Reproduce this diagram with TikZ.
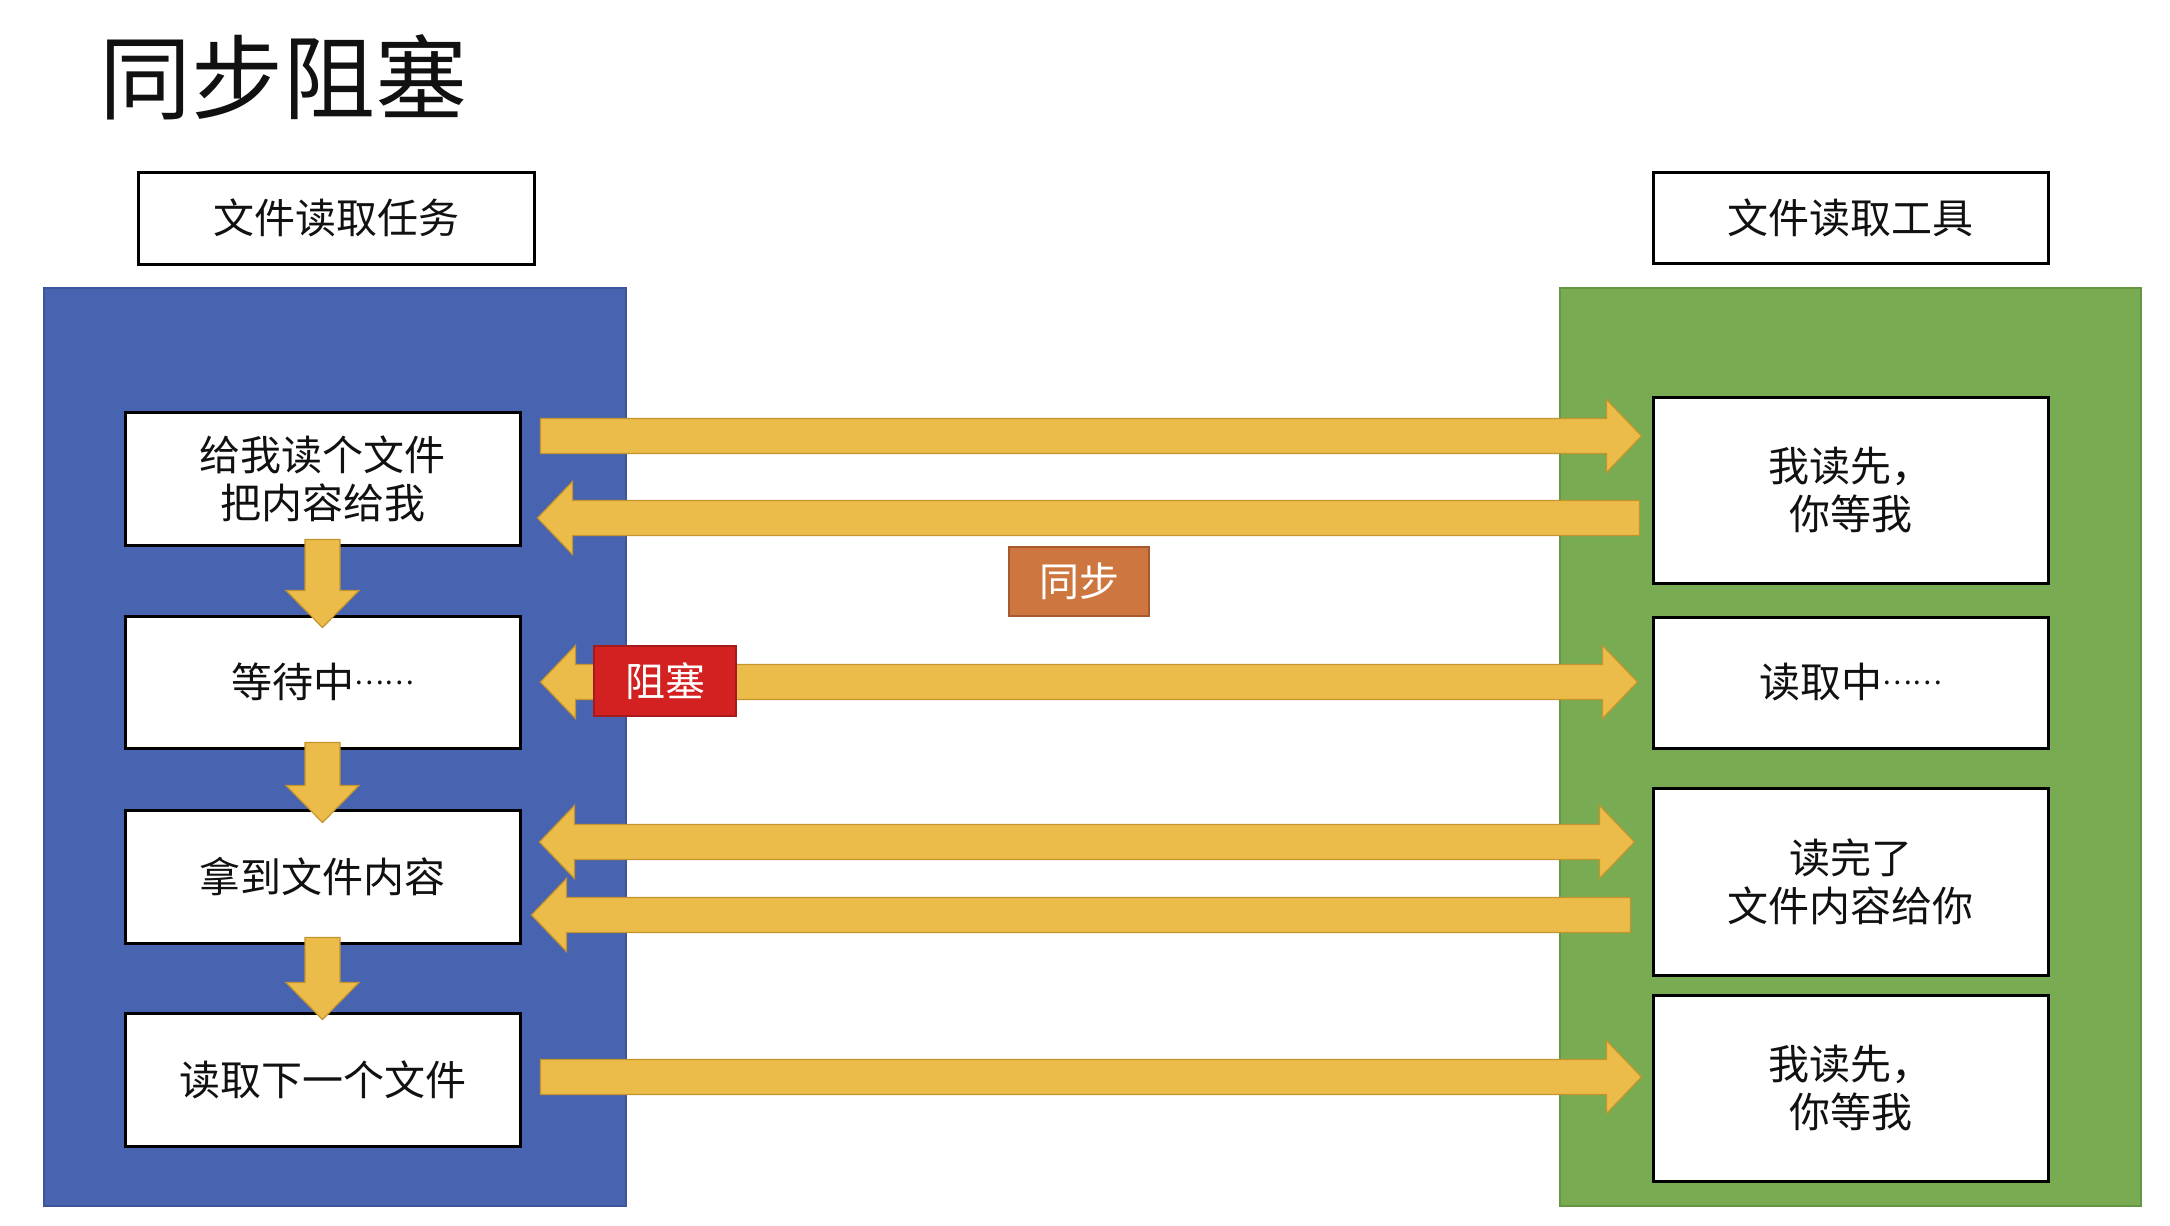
\documentclass[tikz,border=0pt]{standalone}
\usepackage{fontspec}
\setmainfont{Noto Sans CJK SC}
\usetikzlibrary{calc}
\definecolor{panelblue}{HTML}{4863AF}
\definecolor{panelblueline}{HTML}{3E559A}
\definecolor{panelgreen}{HTML}{78AB52}
\definecolor{panelgreenline}{HTML}{669543}
\definecolor{gold}{HTML}{ECBC4A}
\definecolor{golddark}{HTML}{C4952C}
\definecolor{syncorange}{HTML}{CD7640}
\definecolor{syncorangeline}{HTML}{A65A2D}
\definecolor{blockred}{HTML}{D32121}
\definecolor{blockredline}{HTML}{A51A1A}
\definecolor{inktext}{HTML}{111111}
\newcommand\midell{\raisebox{6.5pt}{\fontsize{14}{14}\selectfont ……}}
\begin{document}
\begin{tikzpicture}[x=0.5pt,y=-0.5pt,
  panel/.style={inner sep=0pt, line width=0.8pt},
  boxfont/.style={font=\fontsize{20.5}{24}\selectfont, text=inktext},
  header/.style={boxfont, draw=black, fill=white, line width=1.5pt, inner sep=0pt,
    minimum width=198pt, minimum height=46pt},
  stepbox/.style={boxfont, draw=black, fill=white, line width=1.5pt, inner sep=0pt,
    align=center, minimum width=197.5pt},
  tagbox/.style={font=\fontsize{20}{24}\selectfont, text=white, line width=1pt, inner sep=0pt},
  fatbase/.style={fill=gold, draw=golddark, line width=0.6pt, line join=miter},
  fat right/.style={fatbase, to path={
    ($(\tikztostart)+(0,-17.5)$) -- ($(\tikztotarget)+(-35,-17.5)$) -- ($(\tikztotarget)+(-35,-36.5)$)
    -- (\tikztotarget) -- ($(\tikztotarget)+(-35,36.5)$) -- ($(\tikztotarget)+(-35,17.5)$)
    -- ($(\tikztostart)+(0,17.5)$) -- cycle}},
  fat left/.style={fatbase, to path={
    ($(\tikztostart)+(0,-17.5)$) -- ($(\tikztotarget)+(35,-17.5)$) -- ($(\tikztotarget)+(35,-36.5)$)
    -- (\tikztotarget) -- ($(\tikztotarget)+(35,36.5)$) -- ($(\tikztotarget)+(35,17.5)$)
    -- ($(\tikztostart)+(0,17.5)$) -- cycle}},
  fat both/.style={fatbase, to path={
    (\tikztostart) -- ($(\tikztostart)+(35,-36.5)$) -- ($(\tikztostart)+(35,-17.5)$)
    -- ($(\tikztotarget)+(-35,-17.5)$) -- ($(\tikztotarget)+(-35,-36.5)$)
    -- (\tikztotarget) -- ($(\tikztotarget)+(-35,36.5)$) -- ($(\tikztotarget)+(-35,17.5)$)
    -- ($(\tikztostart)+(35,17.5)$) -- ($(\tikztostart)+(35,36.5)$) -- cycle}},
  fat down/.style={fatbase, to path={
    ($(\tikztostart)+(-17.5,0)$) -- ($(\tikztotarget)+(-17.5,-37)$) -- ($(\tikztotarget)+(-36.5,-37)$)
    -- (\tikztotarget) -- ($(\tikztotarget)+(36.5,-37)$) -- ($(\tikztotarget)+(17.5,-37)$)
    -- ($(\tikztostart)+(17.5,0)$) -- cycle}}
]
\fill[white] (0,0) rectangle (2170,1226);
\useasboundingbox (0,0) rectangle (2170,1226);

% title
\node[inner sep=0pt, font=\fontsize{46}{52}\selectfont, text=inktext] (title) at (283,77) {同步阻塞};

% headers
\node[header] (hL) at (336,218) {文件读取任务};
\node[header, minimum width=197.5pt, minimum height=45.5pt] (hR) at (1850.5,217.5) {文件读取工具};

% panels
\node[panel, fill=panelblue, draw=panelblueline, minimum width=291pt, minimum height=459pt] (blue) at (335,747) {};
\node[panel, fill=panelgreen, draw=panelgreenline, minimum width=290.5pt, minimum height=459pt] (green) at (1850.5,747) {};

% left steps
\node[stepbox, minimum height=66.5pt] (L1) at (322.5,478.5) {给我读个文件\\把内容给我};
\node[stepbox, minimum height=66pt] (L2) at (322.5,682) {等待中\midell};
\node[stepbox, minimum height=66.5pt] (L3) at (322.5,876.5) {拿到文件内容};
\node[stepbox, minimum height=66.5pt] (L4) at (322.5,1079.5) {读取下一个文件};

% right steps
\node[stepbox, minimum height=93pt] (R1) at (1850.5,490) {我读先，\\你等我};
\node[stepbox, minimum height=65.5pt] (R2) at (1850.5,682.5) {读取中\midell};
\node[stepbox, minimum height=93.5pt] (R3) at (1850.5,881.5) {读完了\\文件内容给你};
\node[stepbox, minimum height=93pt] (R4) at (1850.5,1088) {我读先，\\你等我};

% arrow end points
\coordinate (a1s) at ($(L1.east)+(19,-42.5)$);
\coordinate (a1t) at ($(R1.west)+(-10,-54)$);
\coordinate (a2s) at ($(R1.west)+(-12,28)$);
\coordinate (a2t) at ($(L1.east)+(16,39.5)$);
\coordinate (a3s) at ($(L2.east)+(19,0)$);
\coordinate (a3t) at ($(R2.west)+(-14,-0.5)$);
\coordinate (a4s) at ($(L3.east)+(18,-34.5)$);
\coordinate (a4t) at ($(R3.west)+(-17,-39.5)$);
\coordinate (a5s) at ($(R3.west)+(-21,33.5)$);
\coordinate (a5t) at ($(L3.east)+(10,38.5)$);
\coordinate (a6s) at ($(L4.east)+(19,-2.5)$);
\coordinate (a6t) at ($(R4.west)+(-10,-11)$);

\draw[fat right] (a1s) to (a1t);
\draw[fat left] (a2s) to (a2t);
\draw[fat both] (a3s) to (a3t);
\draw[fat both] (a4s) to (a4t);
\draw[fat left] (a5s) to (a5t);
\draw[fat right] (a6s) to (a6t);

% down arrows
\coordinate (d1s) at ($(L1.south)+(0,-7)$);
\coordinate (d1t) at ($(L2.north)+(0,13)$);
\coordinate (d2s) at ($(L2.south)+(0,-7)$);
\coordinate (d2t) at ($(L3.north)+(0,14)$);
\coordinate (d3s) at ($(L3.south)+(0,-7)$);
\coordinate (d3t) at ($(L4.north)+(0,8)$);
\draw[fat down] (d1s) to (d1t);
\draw[fat down] (d2s) to (d2t);
\draw[fat down] (d3s) to (d3t);

% tags
\node[tagbox, fill=syncorange, draw=syncorangeline, minimum width=70pt, minimum height=34.5pt] (sync) at (1079,581.5) {同步};
\node[tagbox, fill=blockred, draw=blockredline, minimum width=71pt, minimum height=35pt] (block) at (665,681) {阻塞};
\end{tikzpicture}
\end{document}
